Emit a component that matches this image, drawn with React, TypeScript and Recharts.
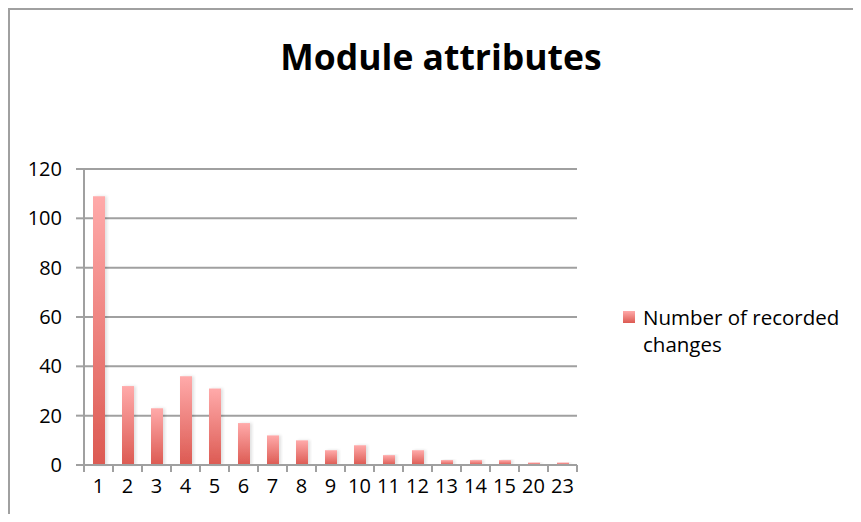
import React from "react";
import { BarChart, Bar, XAxis, YAxis, CartesianGrid, Legend } from "recharts";

const categories = ["1", "2", "3", "4", "5", "6", "7", "8", "9", "10", "11", "12", "13", "14", "15", "20", "23"];
const changes = [109, 32, 23, 36, 31, 17, 12, 10, 6, 8, 4, 6, 2, 2, 2, 1, 1];
const yTicks = [0, 20, 40, 60, 80, 100, 120];

const seriesName = "Number of recorded changes";
const data = categories.map((c, i) => ({ name: c, changes: changes[i] }));

const FONT = "'Open Sans', 'Liberation Sans', sans-serif";
const GRID = "#a0a0a0";

const CHART_W = 851;
const CHART_H = 514;
const LEGEND_W = 240;
// right margin excludes the legend box, which recharts reserves on its own
const MARGIN = { top: 161, right: 284 - LEGEND_W, bottom: 17, left: 14 };
const Y_AXIS_W = 60;
const PLOT_W = CHART_W - MARGIN.left - MARGIN.right - LEGEND_W - Y_AXIS_W;
const BAND = PLOT_W / categories.length;

// Excel-style category axis: tick marks sit between categories, labels in the middle
const CategoryTick = (props: any) => {
  const { x, y, payload, index } = props;
  const axisY = y - 14;
  const last = index === categories.length - 1;
  return (
    <g>
      <line x1={x - BAND / 2} x2={x - BAND / 2} y1={axisY} y2={axisY + 7} stroke={GRID} strokeWidth={2} />
      {last && (
        <line x1={x + BAND / 2} x2={x + BAND / 2} y1={axisY} y2={axisY + 7} stroke={GRID} strokeWidth={2} />
      )}
      <text x={x} y={y} dy="0.71em" textAnchor="middle" fill="#000" fontSize={20} fontFamily={FONT}>
        {payload.value}
      </text>
    </g>
  );
};

const LegendBox = () => (
  <div style={{ display: "flex", alignItems: "flex-start", fontFamily: FONT, fontSize: 20.5, color: "#000" }}>
    <svg width={12} height={12} style={{ marginTop: 7, marginRight: 8, flex: "none" }}>
      <defs>
        <linearGradient id="legendFill" x1="0" y1="0" x2="0" y2="1">
          <stop offset="0%" stopColor="#ffaaaa" />
          <stop offset="100%" stopColor="#dc5a52" />
        </linearGradient>
      </defs>
      <rect width={12} height={12} fill="url(#legendFill)" />
    </svg>
    <div style={{ lineHeight: "27px", width: 220 }}>{seriesName}</div>
  </div>
);

export default function App() {
  return (
    <div
      style={{
        position: "relative",
        width: CHART_W + 2,
        height: CHART_H,
        marginBottom: -8,
        overflow: "hidden",
        boxSizing: "border-box",
        borderLeft: `2px solid ${GRID}`,
        borderTop: `2px solid ${GRID}`,
      }}
    >
      <div
        style={{
          position: "absolute",
          left: -2,
          width: 866,
          top: 22,
          textAlign: "center",
          fontFamily: FONT,
          fontWeight: 700,
          fontSize: 35.5,
          color: "#000",
        }}
      >
        Module attributes
      </div>
      <div style={{ position: "absolute", left: 0, top: -2 }}>
        <BarChart width={CHART_W} height={CHART_H} data={data} margin={MARGIN} barCategoryGap="30%">
          <defs>
            <linearGradient id="barFill" x1="0" y1="0" x2="0" y2="1">
              <stop offset="0%" stopColor="#ffaaaa" />
              <stop offset="100%" stopColor="#dc5a52" />
            </linearGradient>
            <filter id="barShadow" x="-30%" y="-10%" width="160%" height="120%">
              <feDropShadow dx={2} dy={0} stdDeviation={1.5} floodColor="#000" floodOpacity={0.12} />
            </filter>
          </defs>
          <CartesianGrid vertical={false} stroke={GRID} strokeWidth={2} />
          <XAxis
            dataKey="name"
            interval={0}
            height={40}
            axisLine={{ stroke: GRID, strokeWidth: 2 }}
            tickLine={false}
            tickSize={0}
            tickMargin={14}
            tick={<CategoryTick />}
          />
          <YAxis
            domain={[0, 120]}
            ticks={yTicks}
            width={Y_AXIS_W}
            axisLine={{ stroke: GRID, strokeWidth: 2 }}
            tickLine={{ stroke: GRID, strokeWidth: 2 }}
            tickSize={8}
            tickMargin={14}
            tick={{ fill: "#000", fontSize: 20, fontFamily: FONT }}
          />
          <Legend
            layout="vertical"
            align="right"
            verticalAlign="top"
            content={<LegendBox />}
            wrapperStyle={{ left: 613, top: 296, width: LEGEND_W }}
          />
          <Bar
            dataKey="changes"
            name={seriesName}
            fill="url(#barFill)"
            barSize={12}
            filter="url(#barShadow)"
            isAnimationActive={false}
          />
        </BarChart>
      </div>
    </div>
  );
}
